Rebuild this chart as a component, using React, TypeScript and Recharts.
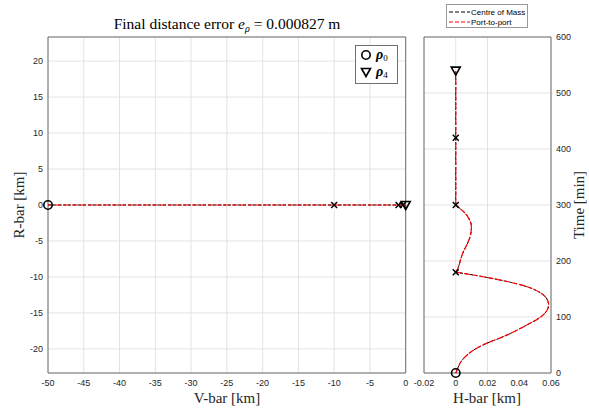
import {
    CartesianGrid,
    ComposedChart,
    Line,
    ReferenceArea,
    Scatter,
    XAxis,
    YAxis,
} from "recharts";

// ---- V-bar / R-bar plane (km) ----
const vBarPath = [-50, -10, -1, -0.4, 0];
const rBarCom = [0, 0, 0, 0, 0];
const rBarPort = [0, 0, 0, 0, 0];
const vBarTicks = [-50, -45, -40, -35, -30, -25, -20, -15, -10, -5, 0];
const rBarTicks = [-20, -15, -10, -5, 0, 5, 10, 15, 20];

// waypoints rho_0 .. rho_4
const waypointV = [-50, -10, -1, -0.4, 0];
const waypointR = [0, 0, 0, 0, 0];
const waypointTime = [0, 180, 300, 420, 540];
const waypointH = [0, 0, 0, 0, 0];

// ---- H-bar vs time, one list per leg ----
const leg1Time = [0, 10, 23, 41, 56, 68, 86, 100, 112, 122, 132, 142, 154, 166, 175, 180];
const leg1H = [0, 0.0015, 0.004, 0.0113, 0.022, 0.0325, 0.045, 0.0535, 0.0575, 0.0585, 0.0575, 0.054, 0.045, 0.028, 0.011, 0];
const leg2Time = [180, 190, 211, 229, 245, 258, 268, 278, 288, 300];
const leg2H = [0, 0.0018, 0.004, 0.007, 0.0092, 0.0098, 0.0095, 0.0078, 0.005, 0];
const leg3Time = [300, 420, 540];
const leg3H = [0, 0, 0];
const hBarTicks = [-0.02, 0, 0.02, 0.04, 0.06];
const timeTicks = [0, 100, 200, 300, 400, 500, 600];

const planeCom = vBarPath.map((v, i) => ({ v, r: rBarCom[i] }));
const planePort = vBarPath.map((v, i) => ({ v, r: rBarPort[i] }));
const toLeg = (ts: number[], hs: number[]) => ts.map((t, i) => ({ t, h: hs[i] }));
const legs = [toLeg(leg1Time, leg1H), toLeg(leg2Time, leg2H), toLeg(leg3Time, leg3H)];

const planeStart = [{ v: waypointV[0], r: waypointR[0] }];
const planeMid = waypointV.slice(1, 4).map((v, i) => ({ v, r: waypointR[i + 1] }));
const planeEnd = [{ v: waypointV[4], r: waypointR[4] }];
const timeStart = [{ h: waypointH[0], t: waypointTime[0] }];
const timeMid = waypointTime.slice(1, 4).map((t, i) => ({ t, h: waypointH[i + 1] }));
const timeEnd = [{ h: waypointH[4], t: waypointTime[4] }];

const tickStyle = { fill: "#262626", fontSize: 9, fontFamily: "Liberation Sans" };
const serif = "Liberation Serif";
const boxStroke = "#6f6f6f";
const gridStroke = "#e3e3e3";

const CircleMark = (p: any) => (
    <circle cx={p.cx} cy={p.cy} r={4.2} fill="none" stroke="#000" strokeWidth={1.6} />
);
const CrossMark = (p: any) => (
    <path
        d={`M${p.cx - 3},${p.cy - 3}L${p.cx + 3},${p.cy + 3}M${p.cx - 3},${p.cy + 3}L${p.cx + 3},${p.cy - 3}`}
        stroke="#000"
        strokeWidth={1.5}
    />
);
const TriangleMark = (p: any) => (
    <path
        d={`M${p.cx - 4.5},${p.cy - 3.5}L${p.cx + 4.5},${p.cy - 3.5}L${p.cx},${p.cy + 4.5}Z`}
        fill="none"
        stroke="#000"
        strokeWidth={1.6}
    />
);

function PlaneChart() {
    return (
        <ComposedChart
            width={420}
            height={413}
            margin={{ top: 37, right: 14.3, left: 8, bottom: 10 }}
        >
            <CartesianGrid stroke={gridStroke} />
            <XAxis
                type="number"
                dataKey="v"
                domain={[-50, 0]}
                ticks={vBarTicks}
                height={30}
                tickSize={0}
                tickMargin={7}
                axisLine={false}
                tick={tickStyle}
            />
            <YAxis
                type="number"
                dataKey="r"
                domain={[-23.35, 23.35]}
                ticks={rBarTicks}
                width={40}
                tickSize={0}
                tickMargin={5}
                axisLine={false}
                tick={tickStyle}
            />
            <ReferenceArea x1={-50} x2={0} y1={-23.35} y2={23.35} fill="none" stroke={boxStroke} />
            <Line data={planeCom} dataKey="r" type="linear" stroke="#000" strokeWidth={1}
                strokeDasharray="3 2" dot={false} isAnimationActive={false} />
            <Line data={planePort} dataKey="r" type="linear" stroke="#ff0000" strokeWidth={1.2}
                strokeDasharray="6 2" dot={false} isAnimationActive={false} />
            <Scatter data={planeMid} shape={CrossMark} isAnimationActive={false} />
            <Scatter data={planeStart} shape={CircleMark} isAnimationActive={false} />
            <Scatter data={planeEnd} shape={TriangleMark} isAnimationActive={false} />
        </ComposedChart>
    );
}

function TimeChart() {
    return (
        <ComposedChart
            width={179}
            height={413}
            margin={{ top: 37, right: 8, left: 14, bottom: 10 }}
        >
            <CartesianGrid stroke={gridStroke} />
            <XAxis
                type="number"
                dataKey="h"
                domain={[-0.02, 0.06]}
                ticks={hBarTicks}
                height={30}
                tickSize={0}
                tickMargin={7}
                axisLine={false}
                tick={tickStyle}
                tickFormatter={(x: number) => (x === 0 ? "0" : String(x))}
            />
            <YAxis
                type="number"
                dataKey="t"
                orientation="right"
                domain={[0, 600]}
                ticks={timeTicks}
                width={30}
                tickSize={0}
                tickMargin={5}
                axisLine={false}
                tick={tickStyle}
            />
            <ReferenceArea x1={-0.02} x2={0.06} y1={0} y2={600} fill="none" stroke={boxStroke} />
            {legs.map((leg, i) => (
                <Line key={"c" + i} data={leg} dataKey="t" type="natural" stroke="#000"
                    strokeWidth={1} strokeDasharray="3 2" dot={false} isAnimationActive={false} />
            ))}
            {legs.map((leg, i) => (
                <Line key={"p" + i} data={leg} dataKey="t" type="natural" stroke="#ff0000"
                    strokeWidth={1.2} strokeDasharray="6 2" dot={false} isAnimationActive={false} />
            ))}
            <Scatter data={timeMid} shape={CrossMark} isAnimationActive={false} />
            <Scatter data={timeStart} shape={CircleMark} isAnimationActive={false} />
            <Scatter data={timeEnd} shape={TriangleMark} isAnimationActive={false} />
        </ComposedChart>
    );
}

export default function App() {
    return (
        <div style={{ position: "absolute", left: 0, top: 0, width: 589, height: 413, background: "#fff" }}>
            <div style={{ position: "absolute", left: 0, top: 0 }}>
                <PlaneChart />
            </div>
            <div style={{ position: "absolute", left: 410, top: 0 }}>
                <TimeChart />
            </div>
            <svg width={589} height={413} style={{ position: "absolute", left: 0, top: 0, pointerEvents: "none" }}>
                <text x={227} y={29} textAnchor="middle" fontFamily={serif} fontSize={15.5} fill="#000">
                    Final distance error <tspan fontStyle="italic">e</tspan>
                    <tspan fontStyle="italic" fontSize={10} dy={3}>ρ</tspan>
                    <tspan dy={-3}> = 0.000827 m</tspan>
                </text>
                <text x={227} y={403} textAnchor="middle" fontFamily={serif} fontSize={15} fill="#262626">
                    V-bar [km]
                </text>
                <text x={487} y={403} textAnchor="middle" fontFamily={serif} fontSize={15} fill="#262626">
                    H-bar [km]
                </text>
                <text x={0} y={0} transform="translate(24,205) rotate(-90)" textAnchor="middle"
                    fontFamily={serif} fontSize={15} fill="#262626">
                    R-bar [km]
                </text>
                <text x={0} y={0} transform="translate(584,205) rotate(-90)" textAnchor="middle"
                    fontFamily={serif} fontSize={15} fill="#262626">
                    Time [min]
                </text>

                {/* waypoint legend */}
                <rect x={355.5} y={45.5} width={42} height={38} fill="#fff" stroke={boxStroke} />
                <CircleMark cx={366} cy={55} />
                <text x={376} y={59} fontFamily={serif} fontSize={14} fill="#000">
                    <tspan fontWeight="bold" fontStyle="italic">ρ</tspan>
                    <tspan fontSize={9} dy={2}>0</tspan>
                </text>
                <TriangleMark cx={366} cy={72} />
                <text x={376} y={76} fontFamily={serif} fontSize={14} fill="#000">
                    <tspan fontWeight="bold" fontStyle="italic">ρ</tspan>
                    <tspan fontSize={9} dy={2}>4</tspan>
                </text>

                {/* series legend */}
                <rect x={446.5} y={4.5} width={81} height={23} fill="#fff" stroke="#999" />
                <line x1={449} x2={470} y1={12} y2={12} stroke="#000" strokeWidth={1} strokeDasharray="4 2" />
                <text x={471} y={15} fontFamily="Liberation Sans" fontSize={8} fill="#000">Centre of Mass</text>
                <line x1={449} x2={470} y1={22} y2={22} stroke="#ff0000" strokeWidth={1} strokeDasharray="4 2" />
                <text x={471} y={25} fontFamily="Liberation Sans" fontSize={8} fill="#000">Port-to-port</text>
            </svg>
        </div>
    );
}
